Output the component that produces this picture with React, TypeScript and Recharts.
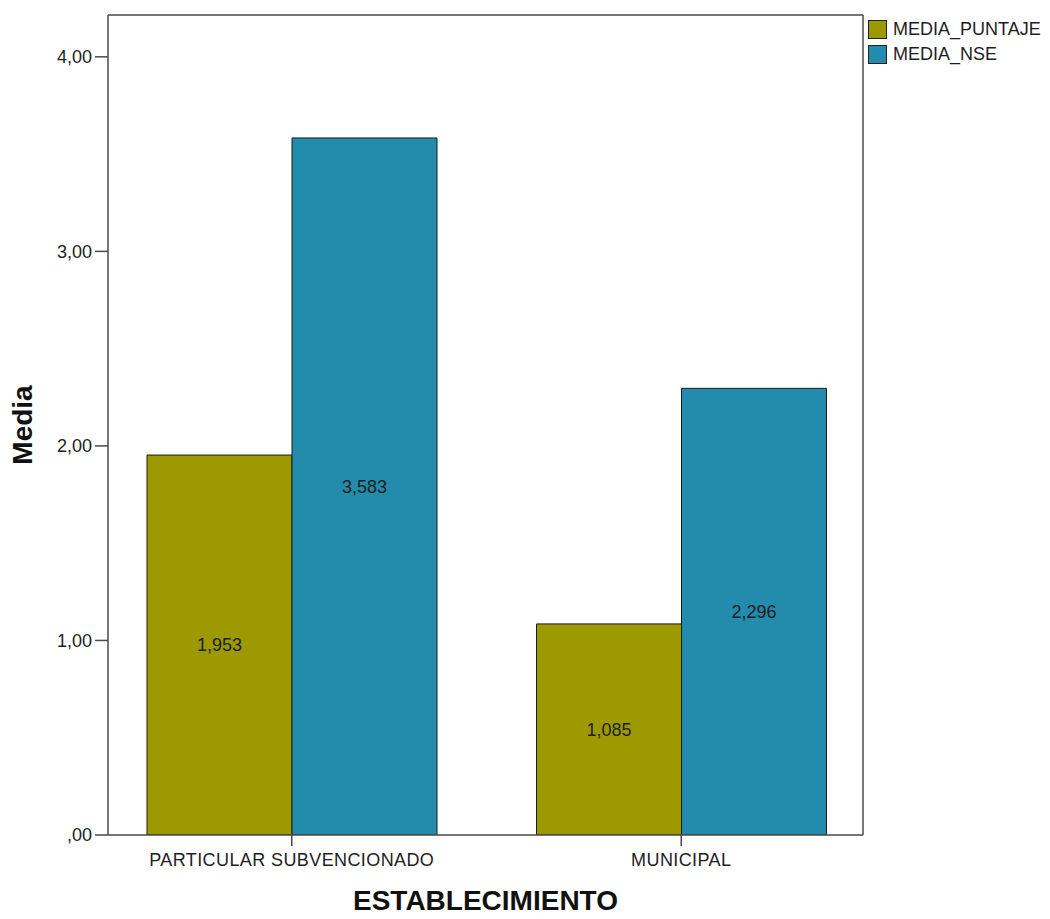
import React from 'react';
import { BarChart, Bar, XAxis, YAxis, LabelList, Legend, Label } from 'recharts';

const categories = ['PARTICULAR SUBVENCIONADO', 'MUNICIPAL'];
const mediaPuntaje = [1.953, 1.085];
const mediaNse = [3.583, 2.296];
const yTicks = [0, 1, 2, 3, 4];
const seriesNames = ['MEDIA_PUNTAJE', 'MEDIA_NSE'];
const seriesColors = ['#9c9a00', '#238bac'];

const data = categories.map((c, i) => ({
  name: c,
  MEDIA_PUNTAJE: mediaPuntaje[i],
  MEDIA_NSE: mediaNse[i],
}));

const FONT = '"Liberation Sans", Arial, sans-serif';
const AXIS = '#4a4a4a';
const TEXT = '#1e1e1e';

const fmtTick = (v: number) => (v === 0 ? ',00' : v.toFixed(2).replace('.', ','));
const fmtLabel = (v: any) => Number(v).toFixed(3).replace('.', ',');

const LegendContent = () => (
  <div style={{ fontFamily: FONT, fontSize: 18, color: TEXT }}>
    {seriesNames.map((n, i) => (
      <div key={n} style={{ display: 'flex', alignItems: 'center', height: 25 }}>
        <div
          style={{
            width: 17,
            height: 17,
            background: seriesColors[i],
            border: '1px solid #222',
            marginRight: 6,
          }}
        />
        <span style={{ lineHeight: '19px' }}>{n}</span>
      </div>
    ))}
  </div>
);

export default function App() {
  return (
    <div style={{ position: 'relative', width: 1050, height: 919, background: '#fff' }}>
      <style>{'body{margin:0;overflow:hidden;background:#fff}'}</style>
      <BarChart
        width={1050}
        height={919}
        data={data}
        margin={{ top: 14, right: 186, bottom: 0, left: 0 }}
        barGap={0}
        style={{ fontFamily: FONT }}
      >
        <XAxis
          dataKey="name"
          height={84}
          padding={{ left: -11, right: -13 }}
          tickSize={11}
          tickMargin={7}
          tick={{ fill: TEXT, fontSize: 18, fontFamily: FONT, letterSpacing: 0.4 }}
          tickLine={{ stroke: AXIS, strokeWidth: 1.5 }}
          axisLine={{ stroke: AXIS, strokeWidth: 1.5 }}
          interval={0}
        >
          <Label
            value="ESTABLECIMIENTO"
            position="insideBottom"
            offset={9}
            style={{ fontSize: 28, fontWeight: 'bold', fill: '#111', fontFamily: FONT }}
          />
        </XAxis>
        <XAxis
          xAxisId="top"
          orientation="top"
          dataKey="name"
          height={1}
          tick={false}
          tickLine={false}
          axisLine={{ stroke: AXIS, strokeWidth: 1.5 }}
        />
        <YAxis
          width={108}
          domain={[0, 4.215]}
          ticks={yTicks}
          tickFormatter={fmtTick}
          tickSize={13}
          tickMargin={3}
          tick={{ fill: TEXT, fontSize: 18, fontFamily: FONT }}
          tickLine={{ stroke: AXIS, strokeWidth: 1.5 }}
          axisLine={{ stroke: AXIS, strokeWidth: 1.5 }}
          allowDataOverflow
        >
          <Label
            value="Media"
            angle={-90}
            position="insideLeft"
            offset={22}
            style={{ fontSize: 28, fontWeight: 'bold', fill: '#111', textAnchor: 'middle', fontFamily: FONT }}
          />
        </YAxis>
        <YAxis
          yAxisId="right"
          orientation="right"
          width={1}
          domain={[0, 4.215]}
          tick={false}
          tickLine={false}
          axisLine={{ stroke: AXIS, strokeWidth: 1.5 }}
        />
        <Legend
          layout="horizontal"
          verticalAlign="middle"
          align="center"
          wrapperStyle={{ top: 17, left: 868, width: 182, height: 52 }}
          content={() => <LegendContent />}
        />
        {seriesNames.map((n, i) => (
          <Bar
            key={n}
            dataKey={n}
            fill={seriesColors[i]}
            stroke="#1a1a1a"
            strokeWidth={1}
            barSize={145}
            isAnimationActive={false}
          >
            <LabelList
              dataKey={n}
              position="center"
              formatter={fmtLabel}
              style={{ fill: TEXT, fontSize: 18, fontFamily: FONT }}
            />
          </Bar>
        ))}
      </BarChart>
    </div>
  );
}
